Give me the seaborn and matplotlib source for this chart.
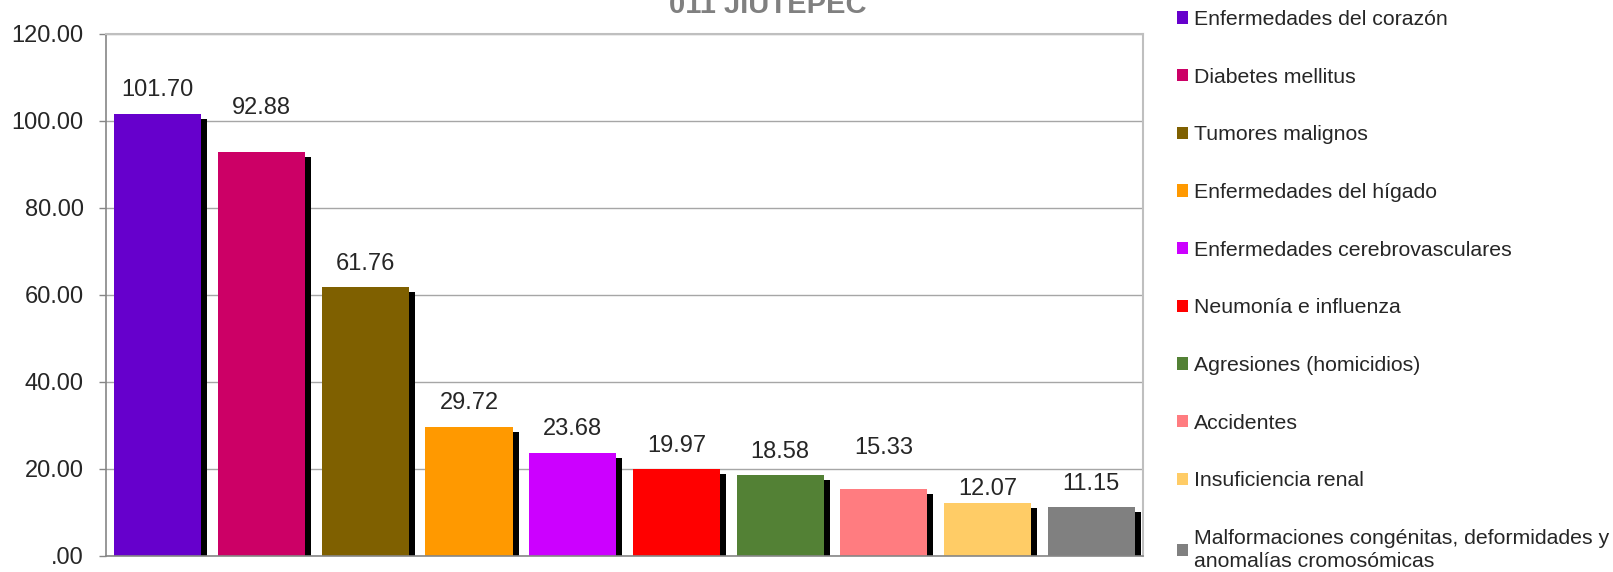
import matplotlib
matplotlib.use("Agg")
import matplotlib.pyplot as plt
import matplotlib.patheffects as pe
from matplotlib.patches import Patch
from matplotlib.ticker import FuncFormatter, FixedLocator
import seaborn as sns
import pandas as pd

# ---------------- data ----------------
causas = [
    "Enfermedades del corazón",
    "Diabetes mellitus",
    "Tumores malignos",
    "Enfermedades del hígado",
    "Enfermedades cerebrovasculares",
    "Neumonía e influenza",
    "Agresiones (homicidios)",
    "Accidentes",
    "Insuficiencia renal",
    "Malformaciones congénitas, deformidades y\nanomalías cromosómicas",
]
tasas = [101.70, 92.88, 61.76, 29.72, 23.68, 19.97, 18.58, 15.33, 12.07, 11.15]
colores = ["#6600CC", "#CC0066", "#7F6000", "#FF9900", "#CC00FF",
           "#FF0000", "#538135", "#FF7C80", "#FFCC66", "#808080"]
titulo = "011 JIUTEPEC"

# separacion (pt) de cada etiqueta sobre su barra, como en el original
pad_etiquetas = [9, 23.4, 9, 9, 9, 9, 9, 22, 2.5, 9]

df = pd.DataFrame({"causa": causas, "tasa": tasas})

# ---------------- plot ----------------
sns.set_style("white")
plt.rcParams["font.family"] = ["Liberation Sans", "DejaVu Sans"]

fig = plt.figure(figsize=(16.13, 5.72), dpi=100)
ax = fig.add_axes([0.0657, 0.028, 0.643, 0.9126])

sns.barplot(data=df, x="causa", y="tasa", hue="causa", palette=colores,
            width=0.84, legend=False, ax=ax, saturation=1)

# sombra negra de las barras
for bar in ax.patches:
    bar.set_edgecolor("none")
    bar.set_path_effects([
        pe.SimplePatchShadow(offset=(4.3, -3.6), shadow_rgbFace="black", alpha=1.0),
        pe.Normal(),
    ])

# etiquetas de valor (una por barra, cada hue es un container)
for cont, pad in zip(ax.containers, pad_etiquetas):
    ax.bar_label(cont, fmt="%.2f", padding=pad, fontsize=17)

ax.set_ylim(0, 120)
ax.set_xlim(-0.5, len(causas) - 0.5)
ax.set_yticks(range(0, 121, 20))
ax.yaxis.set_major_formatter(FuncFormatter(lambda v, p: f"{v:.2f}".lstrip("0") if v < 1 else f"{v:.2f}"))
ax.yaxis.grid(True, color="#A6A6A6", linewidth=1)
ax.set_axisbelow(True)

ax.set_xticks([])
ax.xaxis.set_minor_locator(FixedLocator([i - 0.5 for i in range(len(causas) + 1)]))
ax.tick_params(axis="x", which="minor", length=5, color="#868686", width=1)
ax.tick_params(axis="y", which="major", length=5, color="#868686", width=1,
               labelsize=17, left=True, pad=11)
ax.set_xlabel("")
ax.set_ylabel("")

for lado in ["left", "bottom"]:
    ax.spines[lado].set_color("#868686")
    ax.spines[lado].set_linewidth(1.2)
for lado in ["top", "right"]:
    ax.spines[lado].set_color("#BFBFBF")
    ax.spines[lado].set_linewidth(1.5)

fig.text(768 / 1613, 1 - 13 / 572, titulo, ha="center", va="baseline",
         fontsize=21, fontweight="bold", color="#808080")

handles = [Patch(facecolor=c, edgecolor="none") for c in colores]
leg = fig.legend(handles, causas, loc="upper left", bbox_to_anchor=(1177 / 1613, 1 - 10 / 572),
                 frameon=False, fontsize=15.3, handlelength=0.52, handleheight=0.52,
                 handletextpad=0.3, labelspacing=1.82, borderpad=0, borderaxespad=0)
for t in leg.get_texts():
    t.set_linespacing(1.25)

fig.savefig("out.png", dpi=100)
